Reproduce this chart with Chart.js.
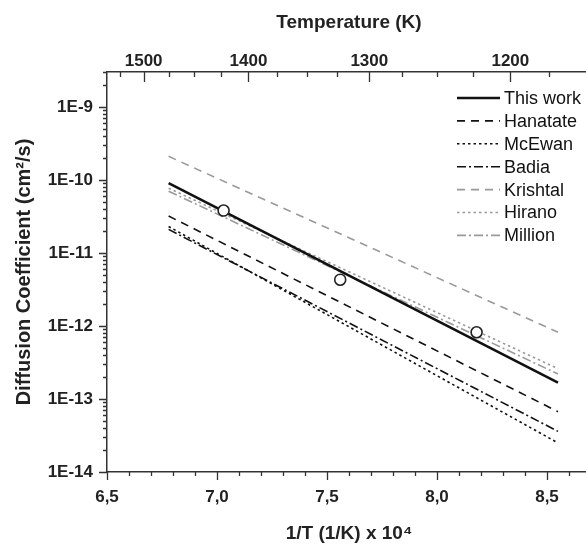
<!DOCTYPE html>
<html>
<head>
<meta charset="utf-8">
<script src="https://cdn.jsdelivr.net/npm/chart.js@4"></script>
<style>
  html, body { margin: 0; padding: 0; background: #fff; }
  #wrap { width: 586px; height: 545px; overflow: hidden; }
</style>
</head>
<body>
<div id="wrap"><canvas id="diffChart" width="600" height="545"></canvas></div>
<script>
// line end points, x = 1/T (1/K) x 10^4
const invT = [6.78, 8.55];
// diffusion coefficient (cm^2/s) at the two end points
const thisWork = [9.0e-11, 1.67e-13];
const hanatate = [3.2e-11, 6.7e-14];
const mcEwan = [2.3e-11, 2.5e-14];
const badia = [2.1e-11, 3.6e-14];
const krishtal = [2.1e-10, 8.2e-13];
const hirano = [7.7e-11, 2.6e-13];
const million = [7.0e-11, 2.2e-13];
// measured points of this work
const measInvT = [7.03, 7.56, 8.18];
const measD = [3.8e-11, 4.3e-12, 8.2e-13];
// tick labels
const xTicks = [6.5, 7.0, 7.5, 8.0, 8.5];
const tempTicks = [1500, 1400, 1300, 1200];
const decades = [-14, -13, -12, -11, -10, -9];

const FONT = "'Liberation Sans', Arial, sans-serif";
const gray = '#9a9a9a';

function pts(ys) {
    return invT.map((x, i) => ({ x: x, y: ys[i] }));
}

function line(label, ys, color, width, dash) {
    return {
        label: label,
        data: pts(ys),
        borderColor: color,
        borderWidth: width,
        borderDash: dash,
        pointRadius: 0,
        fill: false
    };
}

// tick marks drawn from the scales (outward left/bottom, inward top)
const tickMarks = {
    id: 'tickMarks',
    afterDraw(chart) {
        const ctx = chart.ctx;
        const x = chart.scales.x, y = chart.scales.y, t = chart.scales.xTop;
        const area = chart.chartArea;
        ctx.save();
        ctx.strokeStyle = '#333';
        ctx.lineWidth = 1.3;
        ctx.beginPath();
        // bottom
        for (let i = 65; i <= 87; i++) {
            const px = Math.round(x.getPixelForValue(i / 10)) + 0.5;
            const len = i % 5 === 0 ? 8 : 4;
            ctx.moveTo(px, area.bottom); ctx.lineTo(px, area.bottom + len);
        }
        // left
        for (let e = -14; e <= -9; e++) {
            for (let k = 1; k <= 9; k++) {
                const v = k * Math.pow(10, e);
                if (v > y.max * 1.0001) continue;
                const py = Math.round(y.getPixelForValue(v)) + 0.5;
                const len = k === 1 ? 8 : 4;
                ctx.moveTo(area.left, py); ctx.lineTo(area.left - len, py);
            }
        }
        // top (temperature)
        for (let T = 1525; T >= 1150; T -= 25) {
            const px = Math.round(t.getPixelForValue(1e4 / T)) + 0.5;
            const len = T % 100 === 0 ? 10 : 5;
            ctx.moveTo(px, area.top); ctx.lineTo(px, area.top + len);
        }
        ctx.stroke();
        ctx.restore();
    }
};

// legend in the upper right corner
const cornerLegend = {
    id: 'cornerLegend',
    afterDraw(chart) {
        const ctx = chart.ctx;
        ctx.save();
        ctx.font = '18px ' + FONT;
        ctx.textBaseline = 'middle';
        ctx.fillStyle = '#111';
        let row = 0;
        chart.data.datasets.forEach(ds => {
            if (ds.hideInLegend) return;
            const yy = 98 + row * 22.9;
            ctx.strokeStyle = ds.borderColor;
            ctx.lineWidth = ds.borderWidth;
            ctx.setLineDash(ds.borderDash || []);
            ctx.beginPath();
            ctx.moveTo(457, yy); ctx.lineTo(500, yy);
            ctx.stroke();
            ctx.setLineDash([]);
            ctx.fillText(ds.label, 504, yy + 1);
            row++;
        });
        ctx.restore();
    }
};

function createGraph() {
    const ctx = document.getElementById('diffChart').getContext('2d');
    new Chart(ctx, {
        type: 'line',
        data: {
            datasets: [
                {
                    label: 'measured',
                    hideInLegend: true,
                    data: measInvT.map((x, i) => ({ x: x, y: measD[i] })),
                    showLine: false,
                    pointRadius: 5.5,
                    pointBorderWidth: 1.6,
                    pointBorderColor: '#222',
                    pointBackgroundColor: '#fff',
                    order: -1
                },
                line('This work', thisWork, '#111', 2.6, []),
                line('Hanatate', hanatate, '#111', 1.6, [8, 6]),
                line('McEwan', mcEwan, '#111', 1.6, [2.5, 3]),
                line('Badia', badia, '#111', 1.6, [9, 3, 2, 3]),
                line('Krishtal', krishtal, gray, 1.6, [8, 6]),
                line('Hirano', hirano, gray, 1.6, [2.5, 3]),
                line('Million', million, gray, 1.6, [9, 3, 2, 3])
            ]
        },
        options: {
            responsive: false,
            animation: false,
            devicePixelRatio: 1,
            layout: { padding: { left: 0, right: 9, top: 0, bottom: 0 } },
            scales: {
                x: {
                    type: 'linear',
                    position: 'bottom',
                    min: 6.5,
                    max: 8.7,
                    afterBuildTicks: s => { s.ticks = xTicks.map(v => ({ value: v })); },
                    afterFit: s => { s.height = 73; },
                    grid: { display: false, drawTicks: false },
                    border: { display: true, color: '#333', width: 1.5 },
                    ticks: {
                        padding: 15,
                        color: '#222',
                        font: { family: FONT, size: 17, weight: 'bold' },
                        callback: v => v.toFixed(1).replace('.', ','),
                        maxRotation: 0
                    },
                    title: {
                        display: true,
                        text: '1/T (1/K) x 10\u2074',
                        color: '#222',
                        font: { family: FONT, size: 19, weight: 'bold' },
                        padding: { top: 0, bottom: 0 }
                    }
                },
                xTop: {
                    type: 'linear',
                    position: 'top',
                    min: 6.5,
                    max: 8.7,
                    afterBuildTicks: s => { s.ticks = tempTicks.map(T => ({ value: 1e4 / T })); },
                    afterFit: s => { s.height = 72; },
                    grid: { display: false, drawTicks: false },
                    border: { display: true, color: '#333', width: 1.5 },
                    ticks: {
                        padding: 0,
                        color: '#222',
                        font: { family: FONT, size: 17, weight: 'bold' },
                        callback: v => String(Math.round(1e4 / v)),
                        maxRotation: 0
                    },
                    title: {
                        display: true,
                        text: 'Temperature (K)',
                        color: '#222',
                        font: { family: FONT, size: 19, weight: 'bold' },
                        padding: { top: 11, bottom: 0 }
                    }
                },
                y: {
                    type: 'logarithmic',
                    min: 1e-14,
                    max: 3e-9,
                    afterBuildTicks: s => { s.ticks = decades.map(e => ({ value: Math.pow(10, e) })); },
                    afterFit: s => { s.width = 107; },
                    grid: { display: false, drawTicks: false },
                    border: { display: true, color: '#333', width: 1.5 },
                    ticks: {
                        padding: 14,
                        color: '#222',
                        font: { family: FONT, size: 17, weight: 'bold' },
                        callback: v => '1E' + Math.round(Math.log10(v))
                    },
                    title: {
                        display: true,
                        text: 'Diffusion Coefficient (cm\u00b2/s)',
                        color: '#222',
                        font: { family: FONT, size: 20, weight: 'bold' },
                        padding: { top: 12, bottom: 0 }
                    }
                }
            },
            plugins: {
                legend: { display: false },
                tooltip: { enabled: false }
            }
        },
        plugins: [tickMarks, cornerLegend]
    });
}

window.onload = function() {
    createGraph();
};
</script>
</body>
</html>
